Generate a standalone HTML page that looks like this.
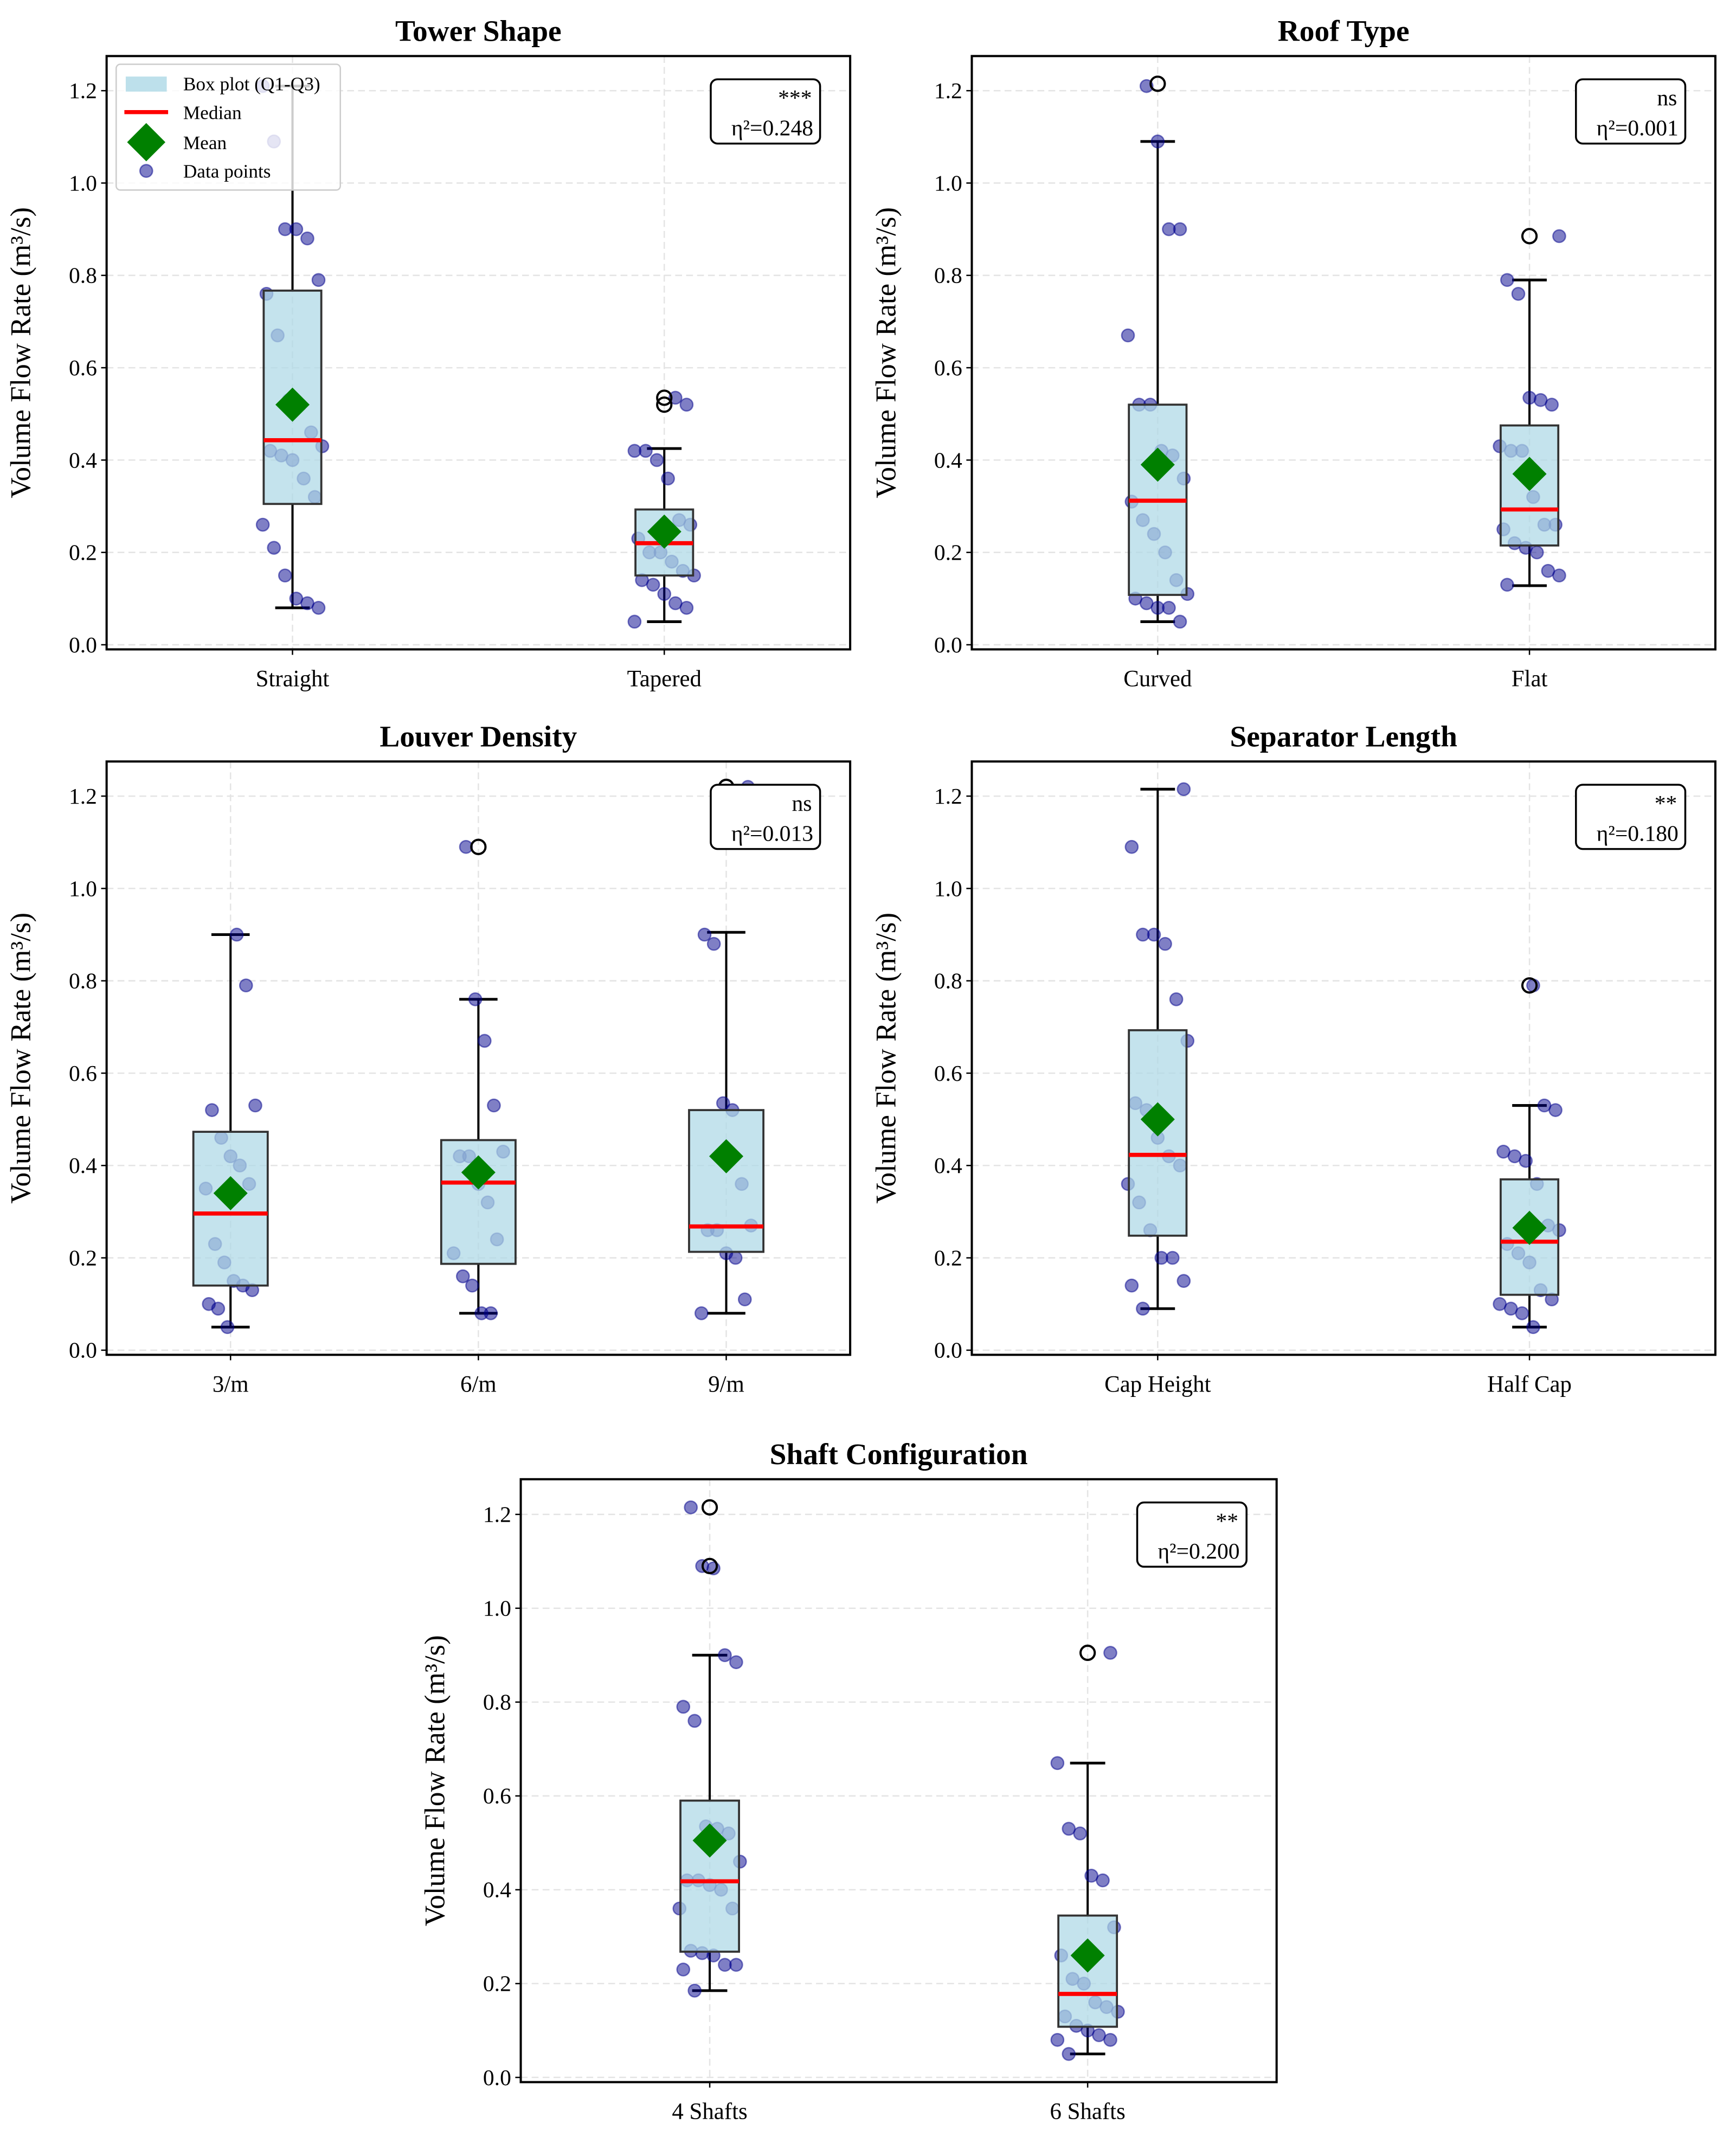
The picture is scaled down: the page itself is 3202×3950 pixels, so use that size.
<!DOCTYPE html>
<html><head><meta charset="utf-8"><style>
html,body{margin:0;padding:0;background:#fff}
svg{display:block}
text{font-family:"Liberation Serif","DejaVu Serif",serif;fill:#000}
</style></head><body>
<svg id="fig" xmlns="http://www.w3.org/2000/svg" width="3202" height="3950" viewBox="0 0 1270.1 1566.8"></svg>
<script>
// ---- data ----
const titles = ["Tower Shape","Roof Type","Louver Density","Separator Length","Shaft Configuration"];
const cats1 = ["Straight","Tapered"];
const cats2 = ["Curved","Flat"];
const cats3 = ["3/m","6/m","9/m"];
const cats4 = ["Cap Height","Half Cap"];
const cats5 = ["4 Shafts","6 Shafts"];
const sigLabels = ["***","ns","ns","**","**"];
const etaLabels = ["η²=0.248","η²=0.001","η²=0.013","η²=0.180","η²=0.200"];
const yTicks = [0.0,0.2,0.4,0.6,0.8,1.0,1.2];
const yTickLabels = ["0.0","0.2","0.4","0.6","0.8","1.0","1.2"];
// box stats per group: [whiskerLow, q1, median, q3, whiskerHigh, mean]
const stats1 = [[0.08,0.305,0.443,0.767,1.21,0.52],[0.05,0.15,0.22,0.293,0.425,0.245]];
const stats2 = [[0.05,0.108,0.312,0.52,1.09,0.39],[0.128,0.215,0.293,0.475,0.79,0.37]];
const stats3 = [[0.05,0.14,0.296,0.473,0.90,0.34],[0.08,0.187,0.363,0.455,0.76,0.385],[0.08,0.213,0.268,0.52,0.905,0.42]];
const stats4 = [[0.09,0.248,0.423,0.693,1.215,0.50],[0.05,0.12,0.235,0.37,0.53,0.265]];
const stats5 = [[0.185,0.268,0.418,0.59,0.90,0.505],[0.05,0.108,0.178,0.345,0.67,0.26]];
const outliers1 = [[],[0.535,0.52]];
const outliers2 = [[1.215],[0.885]];
const outliers3 = [[],[1.09],[1.22]];
const outliers4 = [[],[0.79]];
const outliers5 = [[1.215,1.09],[0.905]];
const points1 = [[1.21,1.09,0.90,0.90,0.88,0.79,0.76,0.67,0.53,0.52,0.46,0.43,0.42,0.41,0.40,0.36,0.32,0.26,0.21,0.15,0.10,0.09,0.08],
                 [0.535,0.52,0.42,0.42,0.40,0.36,0.27,0.26,0.23,0.20,0.20,0.18,0.16,0.15,0.14,0.13,0.11,0.09,0.08,0.05]];
const points2 = [[1.21,1.09,0.90,0.90,0.67,0.52,0.52,0.42,0.41,0.36,0.31,0.27,0.24,0.20,0.14,0.11,0.10,0.09,0.08,0.08,0.05],
                 [0.885,0.79,0.76,0.535,0.53,0.52,0.43,0.42,0.42,0.32,0.26,0.26,0.25,0.22,0.21,0.20,0.16,0.15,0.13]];
const points3 = [[0.90,0.79,0.53,0.52,0.46,0.42,0.40,0.36,0.35,0.23,0.19,0.15,0.14,0.13,0.10,0.09,0.05],
                 [1.09,0.76,0.67,0.53,0.43,0.42,0.42,0.36,0.32,0.24,0.21,0.16,0.14,0.08,0.08],
                 [1.22,0.90,0.88,0.535,0.52,0.36,0.27,0.26,0.26,0.21,0.20,0.11,0.08]];
const points4 = [[1.215,1.09,0.90,0.90,0.88,0.76,0.67,0.535,0.52,0.46,0.42,0.40,0.36,0.32,0.26,0.20,0.20,0.15,0.14,0.09],
                 [0.79,0.53,0.52,0.43,0.42,0.41,0.36,0.27,0.26,0.23,0.21,0.19,0.13,0.11,0.10,0.09,0.08,0.05]];
const points5 = [[1.215,1.09,1.085,0.90,0.885,0.79,0.76,0.535,0.53,0.52,0.46,0.42,0.42,0.41,0.40,0.36,0.36,0.27,0.265,0.26,0.24,0.24,0.23,0.185],
                 [0.905,0.67,0.53,0.52,0.43,0.42,0.32,0.26,0.21,0.20,0.16,0.15,0.14,0.13,0.11,0.10,0.09,0.08,0.08,0.05]];

const panels = [
 {cats:cats1,stats:stats1,out:outliers1,pts:points1,L:78,R:622,T:41,B:475,bw:0.155,legend:true},
 {cats:cats2,stats:stats2,out:outliers2,pts:points2,L:711,R:1255,T:41,B:475,bw:0.155},
 {cats:cats3,stats:stats3,out:outliers3,pts:points3,L:78,R:622,T:557,B:991,bw:0.30},
 {cats:cats4,stats:stats4,out:outliers4,pts:points4,L:711,R:1255,T:557,B:991,bw:0.155},
 {cats:cats5,stats:stats5,out:outliers5,pts:points5,L:381,R:934,T:1082,B:1523,bw:0.155}
];
const NS="http://www.w3.org/2000/svg";
const svg=document.getElementById('fig');
function mk(tag,attrs,parent,txt){const e=document.createElementNS(NS,tag);for(const k in attrs)e.setAttribute(k,attrs[k]);if(txt!==undefined)e.textContent=txt;(parent||svg).appendChild(e);return e;}

panels.forEach((p,pi)=>{
  const g=mk('g',{});
  
  
  const n=p.cats.length;
  const yMin=-0.01, yMax=1.275;
  const ys=v=>p.B-(v-yMin)/(yMax-yMin)*(p.B-p.T);
  const xs=c=>p.L+(c+0.5)/n*(p.R-p.L);
  const unit=(p.R-p.L)/n;
  const t=mk('text',{x:(p.L+p.R)/2,y:p.T-11,'text-anchor':'middle','font-size':22,'font-weight':'bold'},g,titles[pi]);
  
  
  yTicks.forEach((v,i)=>{
    const l=mk('line',{x1:p.L,x2:p.R,y1:ys(v),y2:ys(v),stroke:'#e4e4e4','stroke-width':1,'stroke-dasharray':'5,3'},g);
    
    
    mk('line',{x1:p.L-4,x2:p.L,y1:ys(v),y2:ys(v),stroke:'#000','stroke-width':1},g);
    const tl=mk('text',{x:p.L-7,y:ys(v)+5.5,'text-anchor':'end','font-size':16.5},g,yTickLabels[i]);
    
    
  });
  p.cats.forEach((c,ci)=>{
    const l=mk('line',{x1:xs(ci),x2:xs(ci),y1:p.T,y2:p.B,stroke:'#e4e4e4','stroke-width':1,'stroke-dasharray':'5,3'},g);
    
    
    mk('line',{x1:xs(ci),x2:xs(ci),y1:p.B,y2:p.B+4,stroke:'#000','stroke-width':1},g);
    const tl=mk('text',{x:xs(ci),y:p.B+27,'text-anchor':'middle','font-size':17},g,c);
    
    
  });
  const cy=(p.T+p.B)/2, lx=p.L-56;
  const yl=mk('text',{x:lx,y:cy,'text-anchor':'middle','font-size':21,transform:`rotate(-90 ${lx} ${cy})`},g,'Volume Flow Rate (m³/s)');
  
  
  p.cats.forEach((c,ci)=>{
    const s=p.stats[ci], x=xs(ci), hw=p.bw*unit/2;
    const cg=mk('g',{},g);
    
    
    mk('line',{x1:x,x2:x,y1:ys(s[0]),y2:ys(s[1]),stroke:'#000','stroke-width':1.6},cg);
    mk('line',{x1:x,x2:x,y1:ys(s[3]),y2:ys(s[4]),stroke:'#000','stroke-width':1.6},cg);
    const cw=Math.min(hw*0.6,14);
    mk('line',{x1:x-cw,x2:x+cw,y1:ys(s[0]),y2:ys(s[0]),stroke:'#000','stroke-width':2},cg);
    mk('line',{x1:x-cw,x2:x+cw,y1:ys(s[4]),y2:ys(s[4]),stroke:'#000','stroke-width':2},cg);
    p.pts[ci].forEach((v,i)=>{
      const j=(((i*37+ci*11+pi*5)%17)/16-0.5)*(p.bw>0.2?0.2:0.16)*unit;
      const pt=mk('circle',{cx:x+j,cy:ys(v),r:4.6,fill:'#00008b','fill-opacity':0.5,stroke:'#00008b','stroke-opacity':0.5,'stroke-width':1},cg);
      
      
    });
    const bx=mk('rect',{x:x-hw,y:ys(s[3]),width:2*hw,height:ys(s[1])-ys(s[3]),fill:'#add8e6','fill-opacity':0.72,stroke:'#333','stroke-width':1.5},cg);
    
    
    const md=mk('line',{x1:x-hw,x2:x+hw,y1:ys(s[2]),y2:ys(s[2]),stroke:'#ff0000','stroke-width':3},cg);
    
    
    p.out[ci].forEach(v=>{
      const o=mk('circle',{cx:x,cy:ys(v),r:5.2,fill:'none',stroke:'#000','stroke-width':1.6},cg);
      
      
    });
    const my=ys(s[5]),d=12.5;
    const mn=mk('polygon',{points:`${x},${my-d} ${x+d},${my} ${x},${my+d} ${x-d},${my}`,fill:'#008000'},cg);
    
    
  });
  mk('rect',{x:p.L,y:p.T,width:p.R-p.L,height:p.B-p.T,fill:'none',stroke:'#000','stroke-width':1.6},g);
  const ag=mk('g',{},g);
  
  
  mk('rect',{x:p.R-102,y:p.T+17,width:80,height:47,rx:5,fill:'#fff',stroke:'#000','stroke-width':1.4},ag);
  mk('text',{x:p.R-28,y:p.T+36,'text-anchor':'end','font-size':16.5},ag,sigLabels[pi]);
  mk('text',{x:p.R-27,y:p.T+58,'text-anchor':'end','font-size':16.5},ag,etaLabels[pi]);
  if(p.legend){
    const lg=mk('g',{},g);
    
    
    mk('rect',{x:85,y:47,width:164,height:92,rx:3,fill:'#fff','fill-opacity':0.8,stroke:'#ccc','stroke-width':1},lg);
    mk('rect',{x:92,y:56,width:30,height:11,fill:'#add8e6','fill-opacity':0.8},lg);
    mk('line',{x1:91,x2:123,y1:82,y2:82,stroke:'#ff0000','stroke-width':3},lg);
    mk('polygon',{points:'107,90 121,104 107,118 93,104',fill:'#008000'},lg);
    mk('circle',{cx:107,cy:125,r:4.6,fill:'#00008b','fill-opacity':0.5,stroke:'#00008b','stroke-opacity':0.5},lg);
    [['Box plot (Q1-Q3)',66],['Median',87],['Mean',109],['Data points',130]].forEach(([s,y])=>{
      const e=mk('text',{x:134,y:y,'font-size':14},lg,s);
      
      
    });
  }
});
</script>
</body></html>
